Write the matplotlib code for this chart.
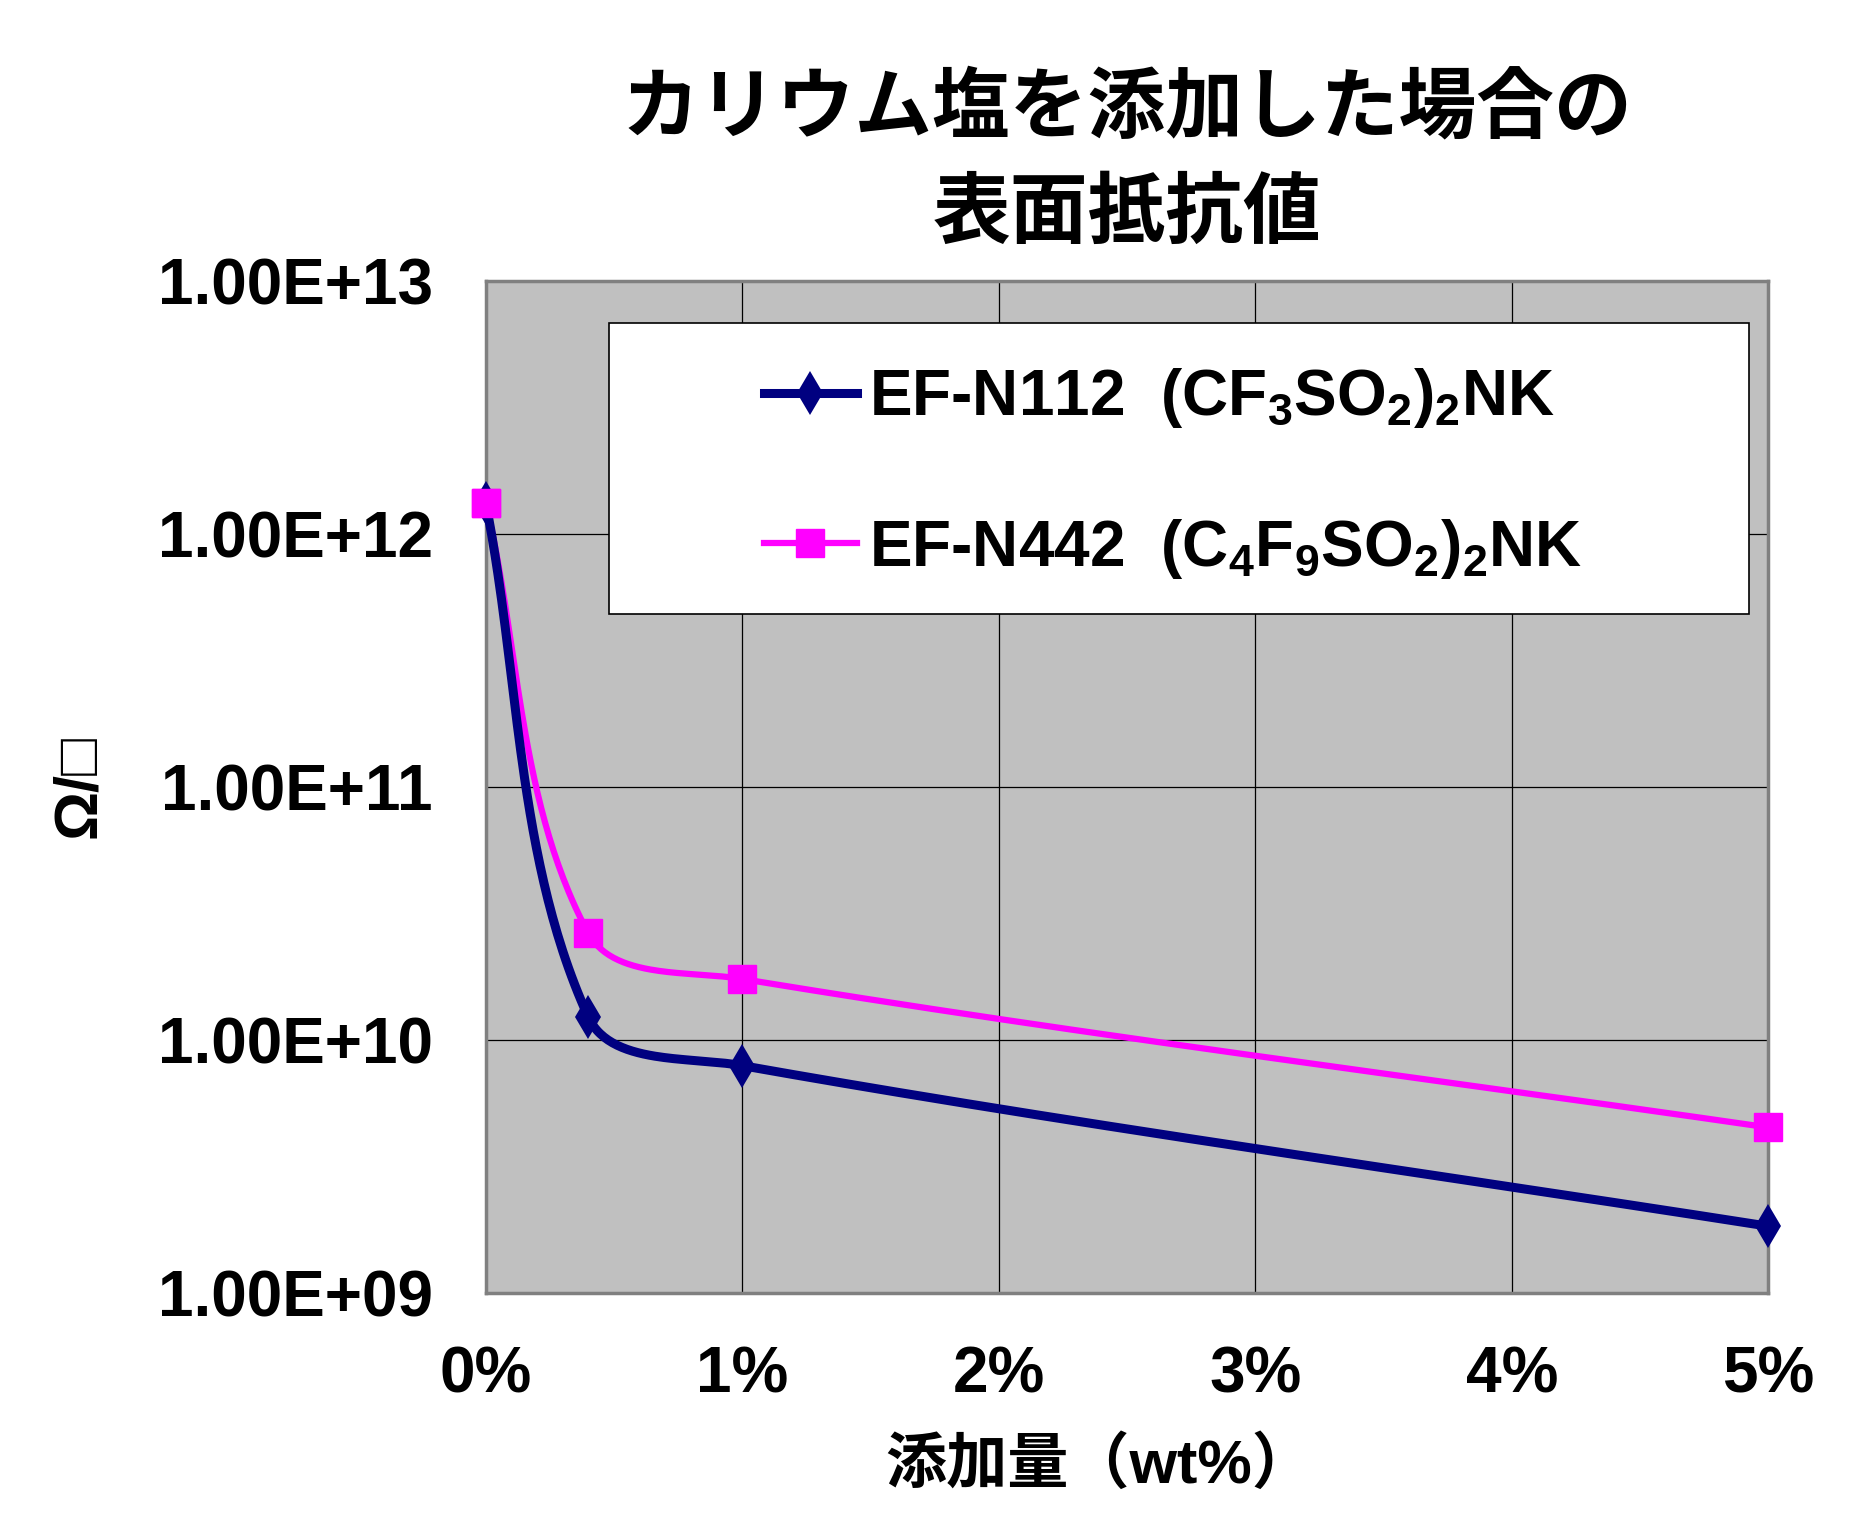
import numpy as np
import matplotlib
matplotlib.use('Agg')
import matplotlib.pyplot as plt
from matplotlib.lines import Line2D
from matplotlib.patches import Rectangle
from matplotlib.ticker import FuncFormatter

plt.rcParams['font.family'] = ['Liberation Sans', 'Noto Sans CJK JP', 'DejaVu Sans']
plt.rcParams['font.weight'] = 'bold'
plt.rcParams['mathtext.fontset'] = 'custom'
plt.rcParams['mathtext.rm'] = 'Liberation Sans:bold'
plt.rcParams['mathtext.bf'] = 'Liberation Sans:bold'
plt.rcParams['mathtext.default'] = 'bf'

# data (wt%, ohm/sq)
conc = [0, 0.4, 1, 5]
n112 = [1.33e12, 1.23e10, 7.9e9, 1.83e9]
n442 = [1.33e12, 2.64e10, 1.74e10, 4.5e9]

labels = [r'EF-N112  (CF$_3$SO$_2$)$_2$NK', r'EF-N442  (C$_4$F$_9$SO$_2$)$_2$NK']
xticks = [0, 1, 2, 3, 4, 5]
title = 'カリウム塩を添加した場合の\n表面抵抗値'
xlabel = '添加量（wt%）'
ylabel = 'Ω/□'

BLUE = '#000080'
PINK = '#FF00FF'


def smooth(xs, ys, n=60):
    # excel-like smoothed line, bezier in (x, log y) space
    pts = np.column_stack([np.asarray(xs, float), np.log10(ys)])
    out = []
    for i in range(len(pts) - 1):
        p0, p3 = pts[i], pts[i + 1]
        seg = np.linalg.norm(p3 - p0)
        prev = pts[i - 1] if i > 0 else p0
        nxt = pts[i + 2] if i + 2 < len(pts) else p3
        d0 = (p3 - prev) / np.linalg.norm(p3 - prev)
        d1 = (nxt - p0) / np.linalg.norm(nxt - p0)
        c1 = p0 + d0 * seg / 3
        c2 = p3 - d1 * seg / 3
        t = np.linspace(0, 1, n)[:, None]
        b = (1 - t)**3 * p0 + 3 * (1 - t)**2 * t * c1 + 3 * (1 - t) * t**2 * c2 + t**3 * p3
        out.append(b if i == 0 else b[1:])
    b = np.vstack(out)
    return b[:, 0], 10 ** b[:, 1]


fig = plt.figure(figsize=(18.56, 15.16), dpi=100)
ax = fig.add_axes([0.2617, 0.1474, 0.691, 0.667])
ax.set_facecolor('#C0C0C0')

ax.set_yscale('log')
ax.set_ylim(1e9, 1e13)
ax.set_xlim(0, 5)
ax.set_xticks(xticks)
ax.set_xticklabels([f'{v}%' for v in xticks])
ax.set_yticks([1e9, 1e10, 1e11, 1e12, 1e13])
ax.yaxis.set_major_formatter(FuncFormatter(lambda v, p: f'{v:.2E}'))
ax.yaxis.set_minor_locator(matplotlib.ticker.NullLocator())
ax.tick_params(length=0, labelsize=46, pad=38)
ax.grid(True, color='black', lw=0.9)
ax.set_axisbelow(True)
for s in ax.spines.values():
    s.set_color('#808080')
    s.set_linewidth(2.5)

sx, sy = smooth(conc, n442)
ax.plot(sx, sy, color=PINK, lw=4.5, clip_on=False, zorder=3)
ax.plot(conc, n442, 's', color=PINK, ms=20, clip_on=False, zorder=4)
sx, sy = smooth(conc, n112)
ax.plot(sx, sy, color=BLUE, lw=6.5, clip_on=False, zorder=5)
ax.plot(conc, n112, 'd', color=BLUE, ms=22, mew=0, clip_on=False, zorder=6)
ax.plot(conc[0], n442[0], 's', color=PINK, ms=20, clip_on=False, zorder=7)

ax.set_title(title, fontsize=56, fontweight='bold', linespacing=1.55, pad=32)
ax.set_xlabel(xlabel, fontsize=44, fontweight='bold', labelpad=25)
ax.xaxis.set_label_coords(0.478, -0.143)
ax.set_ylabel(ylabel, fontsize=44, fontweight='bold', labelpad=36)

# legend box
ax.add_patch(Rectangle((0.096, 0.671), 0.889, 0.288, transform=ax.transAxes,
                       facecolor='white', edgecolor='black', lw=1.2, zorder=8))
handles = [Line2D([], [], color=BLUE, lw=6.5, marker='d', ms=22, mew=0),
           Line2D([], [], color=PINK, lw=4.5, marker='s', ms=20)]
leg = ax.legend(handles, labels, loc='upper left', bbox_to_anchor=(0.217, 0.916),
                frameon=False, fontsize=46, handlelength=1.45, handletextpad=0.2,
                labelspacing=1.35, borderpad=0, borderaxespad=0)
leg.set_zorder(9)

fig.savefig('out.png', dpi=100)
